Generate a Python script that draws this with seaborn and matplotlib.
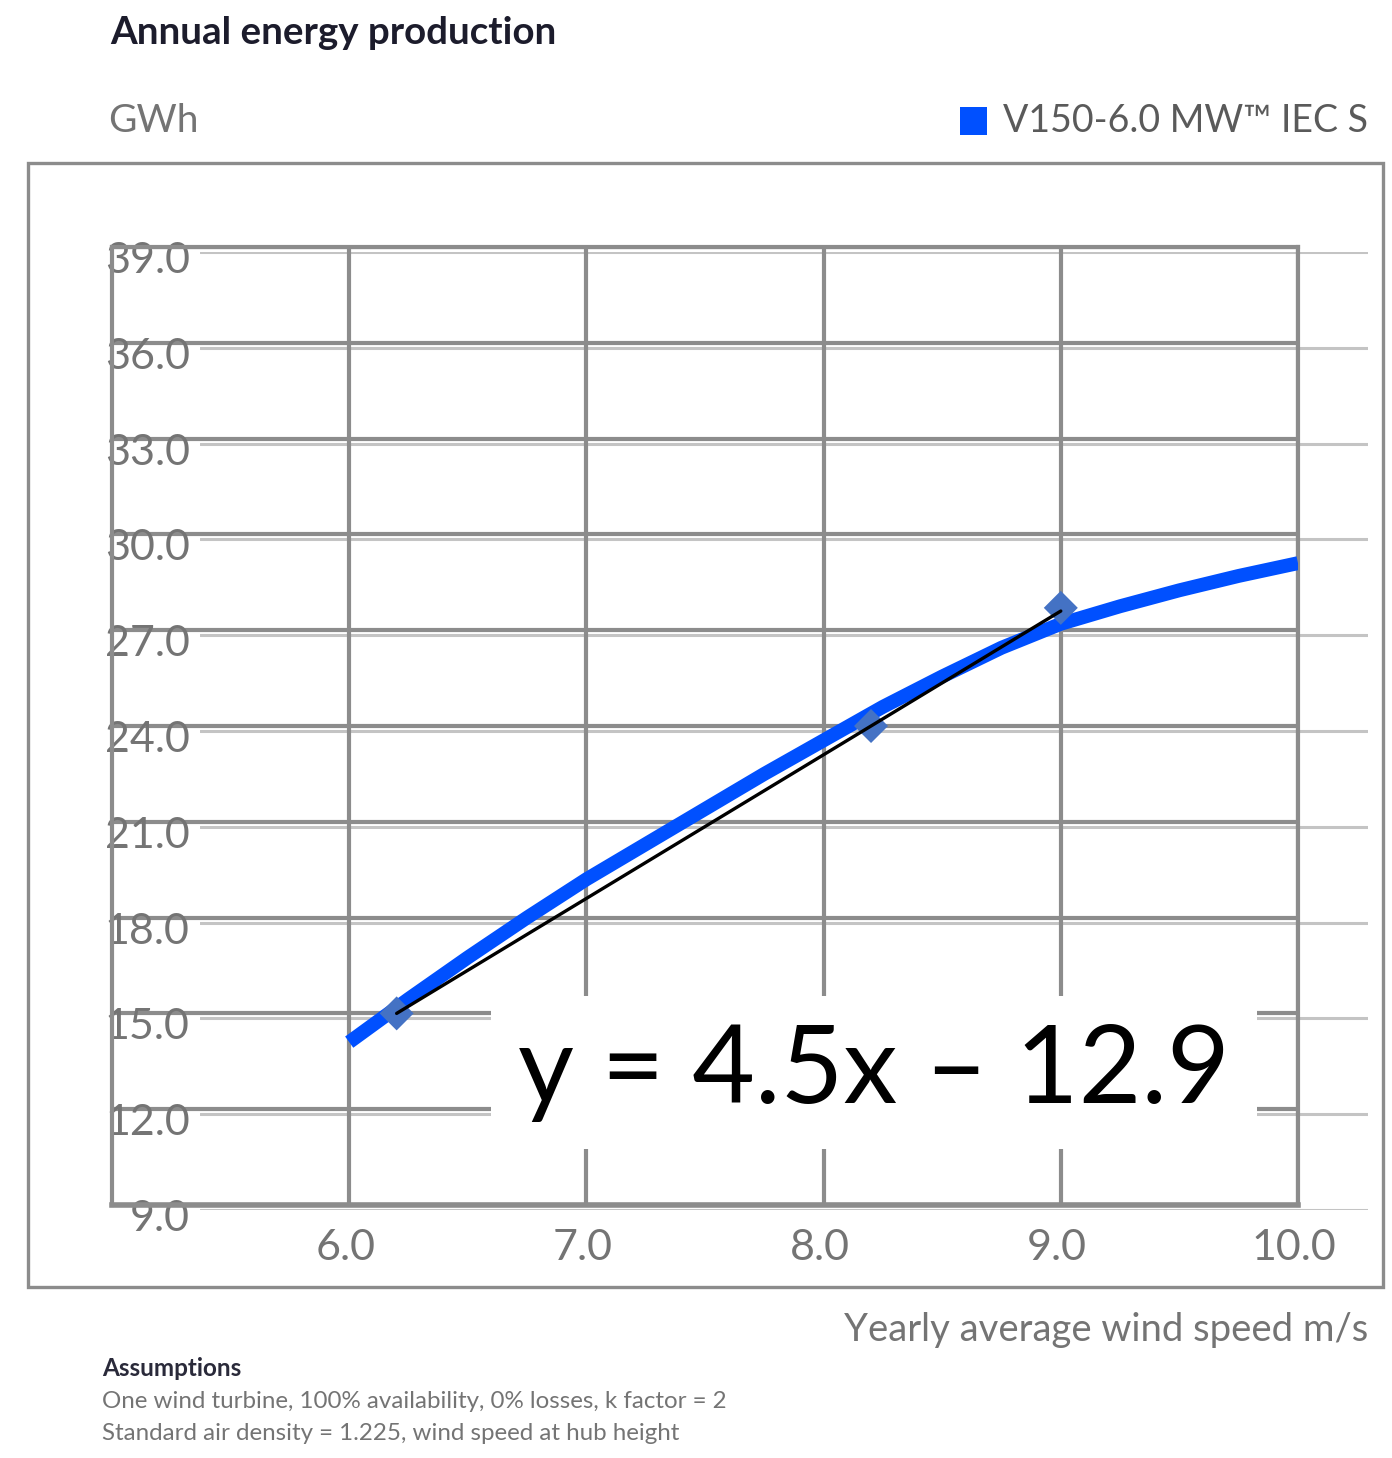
import matplotlib
matplotlib.use("Agg")
import matplotlib.pyplot as plt
from matplotlib.patches import Rectangle
from matplotlib.transforms import ScaledTranslation
import seaborn as sns
import pandas as pd

# ---------------- data ----------------
wind_speed = [6.0, 6.25, 6.5, 6.75, 7.0, 7.25, 7.5, 7.75, 8.0,
              8.25, 8.5, 8.75, 9.0, 9.25, 9.5, 9.75, 10.0]
aep_gwh = [14.1, 15.45, 16.75, 18.0, 19.2, 20.3, 21.4, 22.5, 23.55,
           24.6, 25.55, 26.45, 27.2, 27.75, 28.25, 28.7, 29.1]

marker_speed = [6.2, 8.2, 9.0]
marker_aep = [15.0, 24.0, 27.7]

trend_speed = [6.2, 9.0]
trend_aep = [15.0, 27.6]

x_ticks = [6.0, 7.0, 8.0, 9.0, 10.0]
x_tick_labels = ["6.0", "7.0", "8.0", "9.0", "10.0"]
y_ticks = [9.0, 12.0, 15.0, 18.0, 21.0, 24.0, 27.0, 30.0, 33.0, 36.0, 39.0]
y_tick_labels = ["9.0", "12.0", "15.0", "18.0", "21.0", "24.0", "27.0",
                 "30.0", "33.0", "36.0", "39.0"]

title = "Annual energy production"
unit_label = "GWh"
series_name = "V150-6.0 MW\u2122 IEC S"
x_title = "Yearly average wind speed m/s"
equation = "y = 4.5x \u2013 12.9"
notes_head = "Assumptions"
notes = ["One wind turbine, 100% availability, 0% losses, k factor = 2",
         "Standard air density = 1.225, wind speed at hub height"]

curve_df = pd.DataFrame({"speed": wind_speed, "aep": aep_gwh})
marker_df = pd.DataFrame({"speed": marker_speed, "aep": marker_aep})
trend_df = pd.DataFrame({"speed": trend_speed, "aep": trend_aep})

# ---------------- style ----------------
sns.set_style("white")
FONT = ["Lato", "DejaVu Sans"]
plt.rcParams["font.family"] = FONT

W, H = 1392, 1458
fig = plt.figure(figsize=(W / 100, H / 100), dpi=100)


def fx(px):
    return px / W


def fy(py):
    return 1 - py / H


GRID_DARK = "#8c8c8c"
GRID_LIGHT = "#c4c4c4"
TEXT_GRAY = "#747474"
BLUE = "#0050ff"

# light offset grid lines (background)
bg = fig.add_axes([fx(200), fy(1210), fx(1368) - fx(200), (1205 - 247) / H], zorder=-1)
bg.set_xlim(5.0, 10.0)
bg.set_ylim(9.0, 39.0)
bg.set_yticks(y_ticks)
bg.set_xticks([])
bg.grid(axis="y", color=GRID_LIGHT, lw=2.2)
bg.tick_params(left=False, labelleft=False)
bg.patch.set_alpha(0)
for s in bg.spines.values():
    s.set_visible(False)

# main axes
ax = fig.add_axes([fx(112), fy(1205), fx(1298) - fx(112), (1205 - 247) / H])
ax.patch.set_alpha(0)

sns.lineplot(data=curve_df, x="speed", y="aep", ax=ax, color=BLUE, lw=10,
             solid_capstyle="butt", solid_joinstyle="round", zorder=3)
sns.scatterplot(data=marker_df, x="speed", y="aep", ax=ax, marker="D", s=300,
                color="#4472c4", edgecolor="none", zorder=4)
sns.lineplot(data=trend_df, x="speed", y="aep", ax=ax, color="black", lw=2.4,
             zorder=5)

ax.set_xlim(5.0, 10.0)
ax.set_ylim(9.0, 39.0)
ax.set_xticks(x_ticks)
ax.set_xticklabels(x_tick_labels)
ax.set_yticks(y_ticks)
ax.set_yticklabels(y_tick_labels, ha="right", va="center")
ax.set_xlabel("")
ax.set_ylabel("")
ax.grid(True, color=GRID_DARK, lw=3)
ax.set_axisbelow(True)
for s in ax.spines.values():
    s.set_visible(True)
    s.set_color(GRID_DARK)
    s.set_linewidth(3)
ax.spines["bottom"].set_linewidth(4)

ax.tick_params(axis="y", length=0, pad=-56, labelsize=31, labelcolor=TEXT_GRAY)
ax.tick_params(axis="x", length=0, pad=17, labelsize=31, labelcolor=TEXT_GRAY)
for lbl in ax.get_yticklabels():
    lbl.set_transform(lbl.get_transform() + ScaledTranslation(0, -0.14, fig.dpi_scale_trans))
for lbl in ax.get_xticklabels():
    lbl.set_transform(lbl.get_transform() + ScaledTranslation(-0.04, 0, fig.dpi_scale_trans))

# outer frame
fig.patches.append(Rectangle((fx(28), fy(1287)), fx(1383) - fx(28), (1287 - 163) / H,
                             transform=fig.transFigure, fill=False,
                             ec=GRID_DARK, lw=2.4, zorder=1))

# texts
fig.text(fx(110), fy(33), title, fontsize=27.7, fontweight="bold", color="#1c1c2c",
         va="center", ha="left")
fig.text(fx(108), fy(121), unit_label, fontsize=28, color=TEXT_GRAY, va="center", ha="left")

fig.patches.append(Rectangle((fx(960), fy(135)), fx(987) - fx(960), (135 - 107) / H,
                             transform=fig.transFigure, fc=BLUE, ec="none"))
fig.text(fx(1368), fy(121), series_name, fontsize=27, color="#5a5a5a",
         va="center", ha="right")

fig.text(fx(1368), fy(1330), x_title, fontsize=27.5, color=TEXT_GRAY, va="center", ha="right")

fig.text(fx(102), fy(1368), notes_head, fontsize=17.5, fontweight="bold", color="#2a2a3a",
         va="center", ha="left")
fig.text(fx(102), fy(1401), notes[0], fontsize=17.4, color=TEXT_GRAY, va="center", ha="left")
fig.text(fx(102), fy(1433), notes[1], fontsize=17.4, color=TEXT_GRAY, va="center", ha="left")

fig.text(fx(874), fy(1103), equation, fontsize=78, color="black",
         family=["Lato", "DejaVu Sans"], ha="center", va="baseline",
         bbox=dict(boxstyle="square,pad=0.25", fc="white", ec="none"))

fig.savefig("out.png", dpi=100, facecolor="white")
